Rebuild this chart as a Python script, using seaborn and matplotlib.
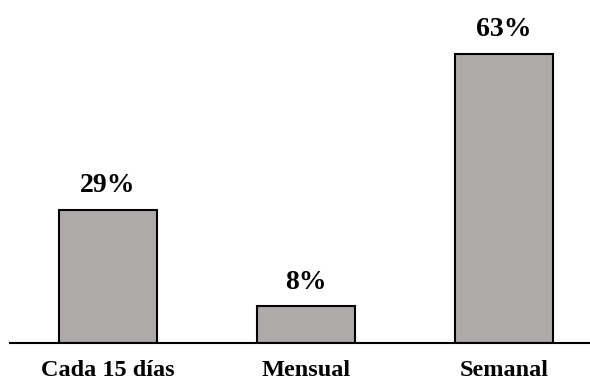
import matplotlib
matplotlib.use("Agg")
import matplotlib.pyplot as plt
import seaborn as sns
import pandas as pd

categories = ["Cada 15 días", "Mensual", "Semanal"]
values = [29, 8, 63]
value_labels = ["29%", "8%", "63%"]

sns.set_theme(style="white")
plt.rcParams["font.family"] = ["Liberation Serif", "DejaVu Serif"]

df = pd.DataFrame({"frecuencia": categories, "porcentaje": values})

fig = plt.figure(figsize=(5.9, 3.8), dpi=100)
ax = fig.add_axes([10 / 590, 37 / 380, 580 / 590, 343 / 380])

sns.barplot(data=df, x="frecuencia", y="porcentaje", order=categories,
            color="#afaaaa", saturation=1, width=0.495,
            edgecolor="black", linewidth=1.5, ax=ax)

for i, (v, lab) in enumerate(zip(values, value_labels)):
    ax.annotate(lab, xy=(i, v), xytext=(0, 8.4), textcoords="offset points",
                ha="center", va="bottom", fontsize=20, fontweight="bold",
                color="black")

ax.set_xlim(-0.495, 2.434)
ax.set_ylim(0, 74.7)
ax.set_xlabel("")
ax.set_ylabel("")
ax.set_yticks([])
ax.tick_params(axis="x", length=0, pad=12, labelsize=17.5, labelcolor="black")
for t in ax.get_xticklabels():
    t.set_fontweight("bold")
for side in ["top", "left", "right"]:
    ax.spines[side].set_visible(False)
ax.spines["bottom"].set_color("black")
ax.spines["bottom"].set_linewidth(1.5)

fig.savefig("out.png", dpi=100)
